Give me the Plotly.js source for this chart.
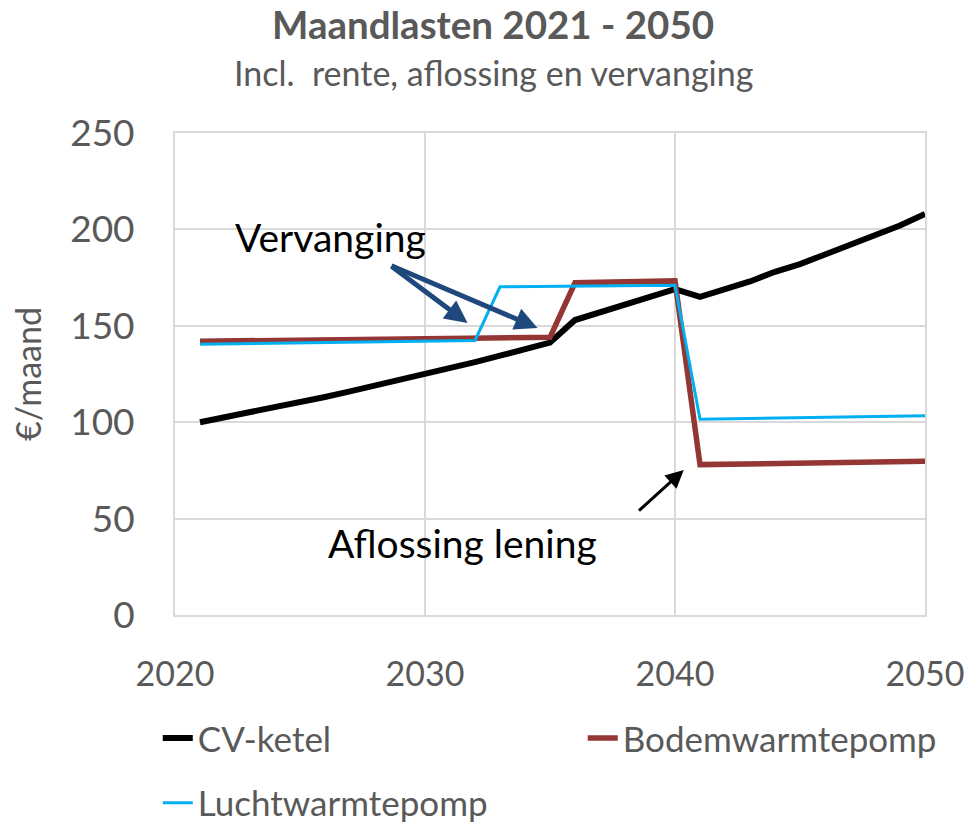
<!DOCTYPE html>
<html>
<head>
<meta charset="utf-8">
<script src="https://cdn.plot.ly/plotly-3.0.1.min.js"></script>
<style>html,body{margin:0;padding:0;background:#fff;}#chart{width:968px;height:824px;}</style>
</head>
<body>
<div id="chart"></div>
<script>
const years = [2021,2022,2023,2024,2025,2026,2027,2028,2029,2030,2031,2032,2033,2034,2035,2036,2037,2038,2039,2040,2041,2042,2043,2044,2045,2046,2047,2048,2049,2050];
const cvKetel = [100,102.5,105,107.7,110.4,113.1,116,118.9,121.8,124.9,128,131.2,134.5,137.9,141.3,153,157,161,165,169,165,169,173,178,182,187,192,197,202,208];
const bodemwarmtepomp = [142,142.1,142.3,142.4,142.6,142.7,142.9,143,143.1,143.3,143.4,143.6,143.7,143.9,144,172.3,172.6,172.9,173.1,173.3,78,78.2,78.4,78.6,78.8,79,79.1,79.3,79.5,79.7];
const luchtwarmtepomp = [140.4,140.6,140.8,141,141.2,141.4,141.5,141.7,141.9,142,142.2,142.4,170.2,170.3,170.4,170.5,170.6,170.7,170.8,171,101.5,101.7,101.9,102.1,102.3,102.6,102.8,103,103.2,103.4];
const seriesNames = ["CV-ketel","Bodemwarmtepomp","Luchtwarmtepomp"];
const xTicks = [2020,2030,2040,2050];
const yTicks = [0,50,100,150,200,250];
const titleText = "Maandlasten 2021 - 2050";
const subtitleText = "Incl.  rente, aflossing en vervanging";
const yTitle = "€/maand";

const FONT = "Lato, 'Open Sans', sans-serif";
const GREY = "#595959";
const GRID = "#d9d9d9";

const traces = [
  {x: years, y: cvKetel, name: seriesNames[0], type: "scatter", mode: "lines", line: {color: "#000000", width: 6}, legend: "legend"},
  {x: years, y: bodemwarmtepomp, name: seriesNames[1], type: "scatter", mode: "lines", line: {color: "#943634", width: 5.5}, legend: "legend2"},
  {x: years, y: luchtwarmtepomp, name: seriesNames[2], type: "scatter", mode: "lines", line: {color: "#00b0f0", width: 3}, legend: "legend3"}
];

const legendBase = {
  orientation: "h", xanchor: "left", yanchor: "middle", xref: "container", yref: "container",
  font: {size: 35, color: GREY, family: FONT}, bgcolor: "rgba(0,0,0,0)"
};

const layout = {
  width: 968, height: 824,
  margin: {l: 175, r: 43, t: 133, b: 209, autoexpand: false},
  paper_bgcolor: "#ffffff", plot_bgcolor: "#ffffff",
  font: {family: FONT, color: GREY},
  showlegend: true,
  xaxis: {
    range: [2020, 2050], tickvals: xTicks, ticktext: xTicks.map(String),
    showgrid: true, gridcolor: GRID, gridwidth: 2,
    showline: true, linecolor: GRID, linewidth: 2, mirror: true,
    zeroline: false, ticks: "", tickfont: {size: 34, color: GREY, family: FONT},
    ticklabelstandoff: 28, ticklabeloverflow: "allow", fixedrange: true, automargin: false
  },
  yaxis: {
    range: [0, 250], tickvals: yTicks,
    showgrid: true, gridcolor: GRID, gridwidth: 2,
    showline: true, linecolor: GRID, linewidth: 2, mirror: true,
    zeroline: false, ticks: "", tickfont: {size: 37, color: GREY, family: FONT},
    ticklabelstandoff: 31, ticklabeloverflow: "allow",
    title: {text: yTitle, font: {size: 34, color: GREY, family: FONT}, standoff: 18},
    fixedrange: true, automargin: false
  },
  legend: Object.assign({}, legendBase, {x: 0.163, y: 0.104}),
  legend2: Object.assign({}, legendBase, {x: 0.602, y: 0.104}),
  legend3: Object.assign({}, legendBase, {x: 0.163, y: 0.0255}),
  annotations: [
    {text: "<b>" + titleText + "</b>", xref: "paper", yref: "paper", x: 0.424, y: 1.226, showarrow: false, font: {size: 38.5, color: GREY, family: FONT}, xanchor: "center", yanchor: "middle"},
    {text: subtitleText, xref: "paper", yref: "paper", x: 0.424, y: 1.126, showarrow: false, font: {size: 34, color: GREY, family: FONT}, xanchor: "center", yanchor: "middle"},
    {text: "Vervanging", xref: "x", yref: "y", x: 2026.2, y: 196, showarrow: false, font: {size: 39, color: "#000000", family: FONT}, xanchor: "center", yanchor: "middle"},
    {text: "", xref: "x", yref: "y", axref: "x", ayref: "y", x: 2031.7, y: 151.5, ax: 2028.6, ay: 181.5, showarrow: true, arrowhead: 2, arrowsize: 0.9, arrowwidth: 5, arrowcolor: "#1f497d", standoff: 0},
    {text: "", xref: "x", yref: "y", axref: "x", ayref: "y", x: 2034.5, y: 148.9, ax: 2028.6, ay: 181.5, showarrow: true, arrowhead: 2, arrowsize: 0.9, arrowwidth: 5, arrowcolor: "#1f497d", standoff: 0},
    {text: "Aflossing lening", xref: "x", yref: "y", x: 2031.5, y: 37.3, showarrow: false, font: {size: 39, color: "#000000", family: FONT}, xanchor: "center", yanchor: "middle"},
    {text: "", xref: "x", yref: "y", axref: "x", ayref: "y", x: 2040.35, y: 75.2, ax: 2038.5, ay: 53.4, showarrow: true, arrowhead: 2, arrowsize: 1.2, arrowwidth: 3, arrowcolor: "#000000", standoff: 0}
  ]
};

Plotly.newPlot("chart", traces, layout, {displayModeBar: false, staticPlot: true});
</script>
</body>
</html>
